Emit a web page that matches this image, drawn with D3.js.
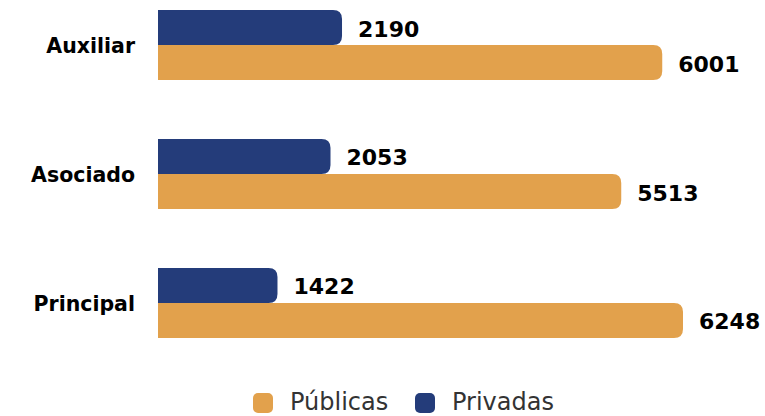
<!doctype html>
<meta charset="utf-8">
<title>Categorías</title>
<script src="https://cdn.jsdelivr.net/npm/d3@7"></script>
<style>
  body { margin: 0; background: #fff; }
  text { font-family: "DejaVu Sans", sans-serif; }
</style>
<svg id="chart" width="765" height="416"></svg>
<script>
  // datos
  const categorias = ['Auxiliar', 'Asociado', 'Principal']
  const privadas = [2190, 2053, 1422]
  const publicas = [6001, 5513, 6248]
  const series = ['Públicas', 'Privadas']
  const colores = { 'Públicas': '#e2a14c', 'Privadas': '#243c7a' }

  const svg = d3.select('#chart')
  const x = d3.scaleLinear().domain([0, 6248]).range([158, 683])
  const y = d3.scaleBand().domain(categorias).range([10, 338]).paddingInner(0.457).paddingOuter(0)
  const sub = d3.scaleBand().domain(['Privadas', 'Públicas']).range([0, y.bandwidth()])

  // barra con esquinas redondeadas solo a la derecha
  function barPath(x0, x1, y0, h, r) {
    r = Math.min(r, (x1 - x0), h / 2)
    return `M${x0},${y0}H${x1 - r}Q${x1},${y0} ${x1},${y0 + r}V${y0 + h - r}Q${x1},${y0 + h} ${x1 - r},${y0 + h}H${x0}Z`
  }

  const g = svg.append('g')
  categorias.forEach((c, i) => {
    const filas = [
      { s: 'Privadas', v: privadas[i] },
      { s: 'Públicas', v: publicas[i] },
    ]
    filas.forEach(f => {
      const y0 = y(c) + sub(f.s)
      g.append('path')
        .attr('d', barPath(x(0), x(f.v), y0, sub.bandwidth(), 9))
        .attr('fill', colores[f.s])
      g.append('text')
        .attr('x', x(f.v) + 16)
        .attr('y', y0 + sub.bandwidth() / 2 + 9)
        .attr('font-size', 22)
        .attr('font-weight', 700)
        .attr('fill', '#000')
        .text(f.v)
    })
    g.append('text')
      .attr('x', 135)
      .attr('y', y(c) + y.bandwidth() / 2 + 8)
      .attr('text-anchor', 'end')
      .attr('font-size', 20.5)
      .attr('font-weight', 700)
      .attr('fill', '#000')
      .text(c)
  })

  // leyenda
  const leyenda = svg.append('g').attr('transform', 'translate(253,393)')
  const pos = [0, 162]
  series.forEach((s, i) => {
    const it = leyenda.append('g').attr('transform', `translate(${pos[i]},0)`)
    it.append('rect').attr('width', 20).attr('height', 20).attr('rx', 5).attr('fill', colores[s])
    it.append('text')
      .attr('x', 37).attr('y', 17)
      .attr('font-size', 24)
      .attr('fill', '#333')
      .text(s)
  })
</script>
